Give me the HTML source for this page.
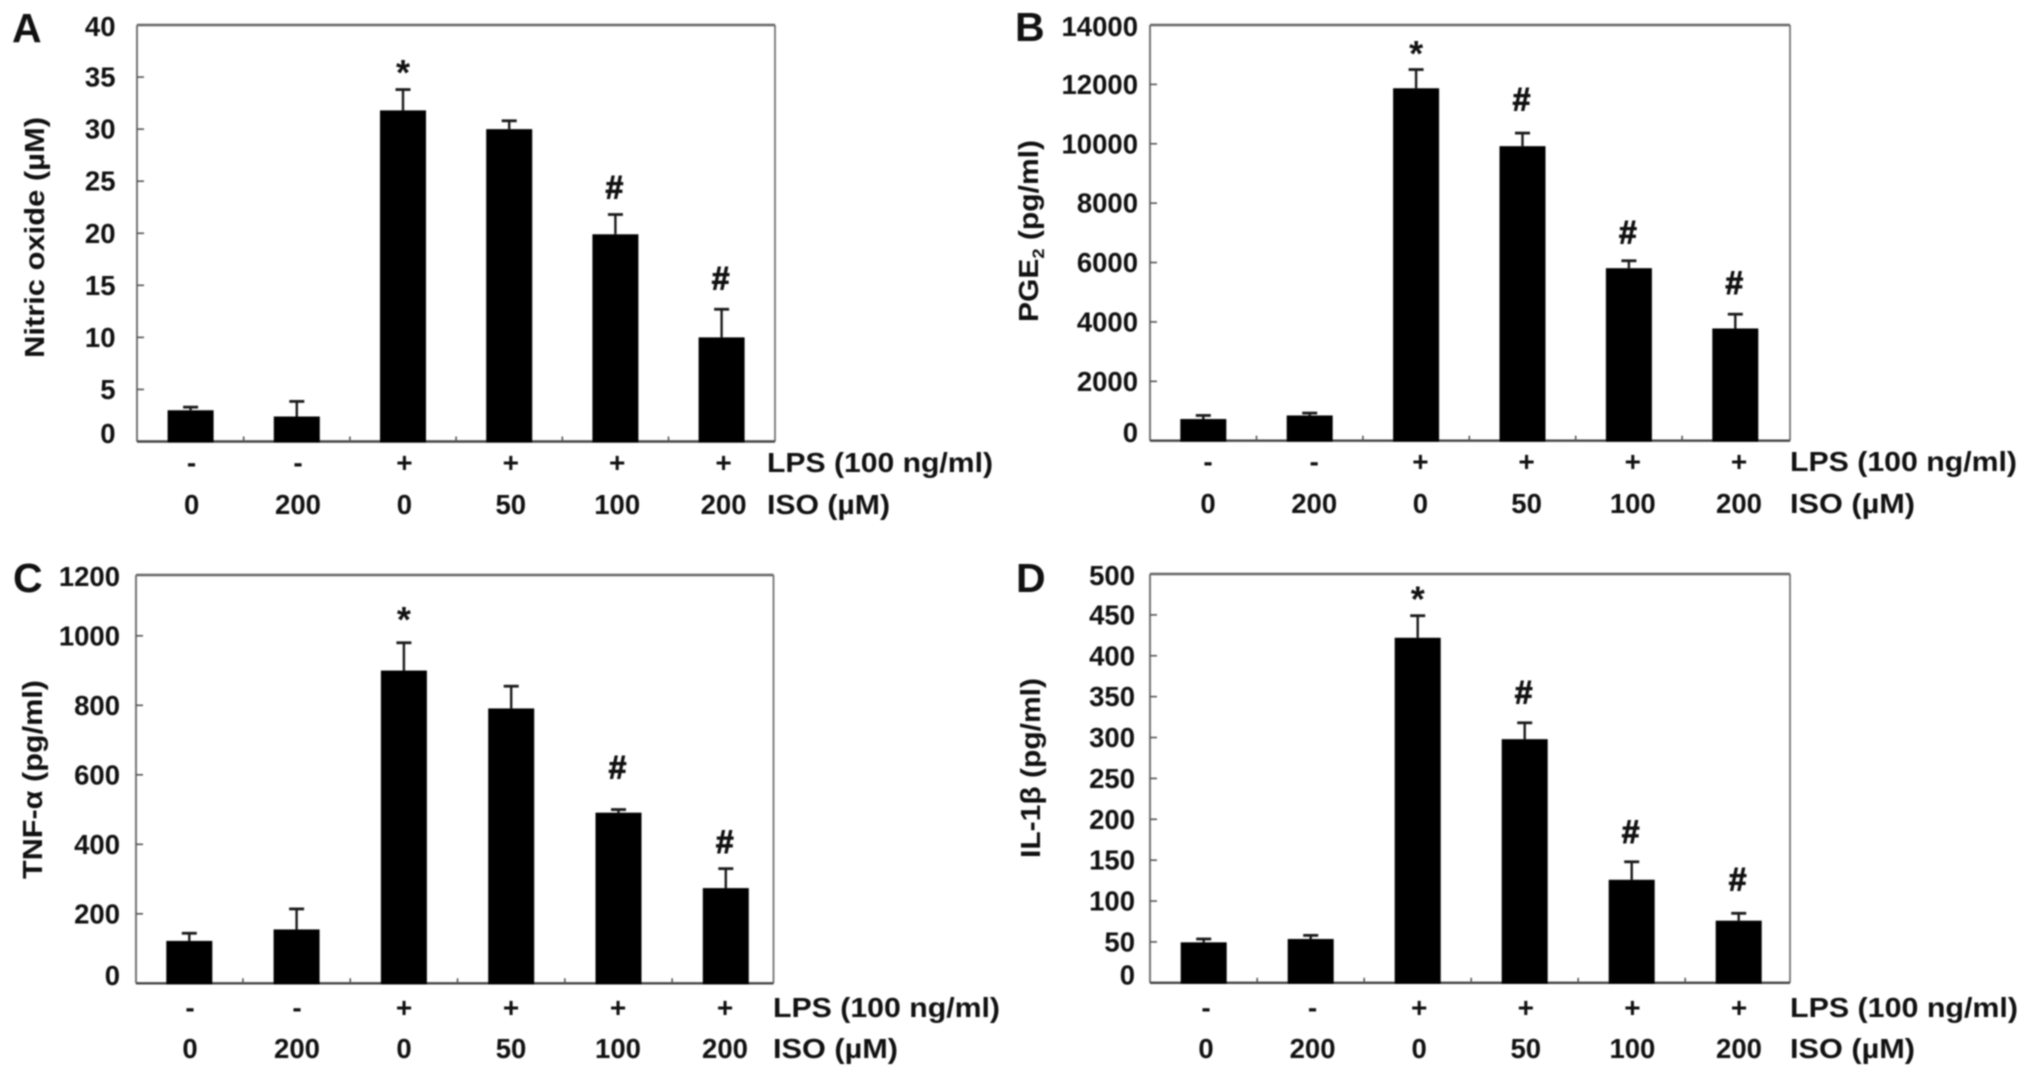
<!DOCTYPE html>
<html lang="en">
<head>
<meta charset="utf-8">
<title>Nitric oxide, PGE2, TNF-alpha and IL-1beta bar charts</title>
<style>
html,body{margin:0;padding:0;background:#fff;}
#figure{display:block;width:2031px;height:1077px;filter:blur(0.8px);}
#figure text{font-family:"Liberation Sans",Arial,sans-serif;font-weight:bold;fill:#111;}
</style>
</head>
<body>
<svg id="figure" xmlns="http://www.w3.org/2000/svg" width="2031" height="1077" viewBox="0 0 2031 1077"></svg>
<script>
const lpsLabels = ['-', '-', '+', '+', '+', '+'];
const isoLabels = ['0', '200', '0', '50', '100', '200'];

const aValues = [3, 2.4, 31.8, 30, 19.9, 10];
const aErrorTops = [3.3, 3.85, 33.8, 30.8, 21.8, 12.7];
const aMarks = ['', '', '*', '', '#', '#'];
const aTicks = [0, 5, 10, 15, 20, 25, 30, 35, 40];

const bValues = [730, 850, 11870, 9920, 5810, 3780];
const bErrorTops = [850, 930, 12500, 10360, 6060, 4260];
const bMarks = ['', '', '*', '#', '#', '#'];
const bTicks = [0, 2000, 4000, 6000, 8000, 10000, 12000, 14000];

const cValues = [122, 155, 900, 791, 491, 274];
const cErrorTops = [144, 214, 980, 855, 500, 330];
const cMarks = ['', '', '*', '', '#', '#'];
const cTicks = [0, 200, 400, 600, 800, 1000, 1200];

const dValues = [49.5, 53.6, 422, 298, 126, 76];
const dErrorTops = [53.6, 58, 449, 318, 148, 85];
const dMarks = ['', '', '*', '#', '#', '#'];
const dTicks = [0, 50, 100, 150, 200, 250, 300, 350, 400, 450, 500];

const panels = [
  {id:'a', letter:'A', lx:12, ly:42, title:'Nitric oxide (µM)', sub:null, tx:44, ty:358, tl:241,
   left:137, right:775, top:25, bottom:441.5, max:40, c0:190.6, step:106.2, rx0:191.6, rstep:106.4,
   tickRight:115.5, keyX:767, lpsW:226, isoW:123, lpsY:472, isoY:514, gaps:[0,0,22.4,0,25,29],
   values:aValues, errs:aErrorTops, marks:aMarks, ticks:aTicks},
  {id:'b', letter:'B', lx:1015, ly:41, title:'PGE', sub:'2', tail:' (pg/ml)', tx:1038, ty:322, tl:182,
   left:1150, right:1790, top:25, bottom:440.7, max:14000, c0:1203.3, step:106.4, rx0:1208, rstep:106.2,
   tickRight:1138, keyX:1790, lpsW:227, isoW:125, lpsY:471, isoY:513, gaps:[0,0,21.7,31.7,26.5,29],
   values:bValues, errs:bErrorTops, marks:bMarks, ticks:bTicks},
  {id:'c', letter:'C', lx:13, ly:592, title:'TNF-α (pg/ml)', sub:null, tx:42, ty:879, tl:199,
   left:136, right:773.5, top:575, bottom:983.3, max:1175, c0:189.3, step:107.3, rx0:190, rstep:107,
   tickRight:120, keyX:773, lpsW:227, isoW:125, lpsY:1017, isoY:1058, gaps:[0,0,29,0,40,24.7],
   values:cValues, errs:cErrorTops, marks:cMarks, ticks:cTicks},
  {id:'d', letter:'D', lx:1016, ly:592, title:'IL-1β (pg/ml)', sub:null, tx:1040, ty:858, tl:180,
   left:1150, right:1790, top:574, bottom:982.8, max:500, c0:1203.7, step:107, rx0:1206, rstep:106.6,
   tickRight:1135, keyX:1790, lpsW:228, isoW:125, lpsY:1017, isoY:1058, gaps:[0,0,22.3,28.4,28,31.7],
   values:dValues, errs:dErrorTops, marks:dMarks, ticks:dTicks}
];

const svg = document.getElementById('figure');
const NS = 'http://www.w3.org/2000/svg';

function line(parent, x1, y1, x2, y2, stroke, w) {
  const el = document.createElementNS(NS, 'line');
  el.setAttribute('x1', x1);
  el.setAttribute('y1', y1);
  el.setAttribute('x2', x2);
  el.setAttribute('y2', y2);
  el.setAttribute('stroke', stroke);
  el.setAttribute('stroke-width', w);
  parent.appendChild(el);
  return el;
}
function label(parent, x, y, str, size, anchor) {
  const el = document.createElementNS(NS, 'text');
  el.setAttribute('x', x);
  el.setAttribute('y', y);
  el.setAttribute('font-size', size);
  el.setAttribute('text-anchor', anchor || 'middle');
  el.textContent = str;
  parent.appendChild(el);
  return el;
}

panels.forEach(function (p) {
  const yScale = function (v) { return p.bottom - (v / p.max) * (p.bottom - p.top); };
  const xCenter = function (i) { return p.c0 + i * p.step; };
  const barW = 46;

  const g = document.createElementNS(NS, 'g');
  
  
  svg.appendChild(g);

  const letter = label(g, p.lx, p.ly, p.letter, 41, 'start');
  
  

  const frame = document.createElementNS(NS, 'g');
  
  
  g.appendChild(frame);
  line(frame, p.left, p.top, p.right, p.top, '#666', 2.4);
  line(frame, p.right, p.top, p.right, p.bottom, '#666', 1.6);
  line(frame, p.left, p.top, p.left, p.bottom, '#666', 1.8);
  line(frame, p.left, p.bottom, p.right, p.bottom, '#444', 2.4);

  const yAxis = document.createElementNS(NS, 'g');
  
  
  g.appendChild(yAxis);
  p.ticks.forEach(function (t) {
    const ty = yScale(t);
    if (ty > p.top + 1 && ty < p.bottom - 1) {
      const tick = line(yAxis, p.left, ty, p.left + 7, ty, '#555', 1.6);
      
      
    }
    const cy = Math.min(Math.max(ty, p.top + 1.5), p.bottom - 8);
    const tl = label(yAxis, p.tickRight, cy + 9.5, String(t), 27.5, 'end');
    
    
  });

  for (let i = 1; i < p.values.length; i++) {
    const bx = (xCenter(i - 1) + xCenter(i)) / 2;
    const xt = line(g, bx, p.bottom, bx, p.bottom - 5, '#555', 1.6);
    
    
  }

  const title = document.createElementNS(NS, 'text');
  
  
  title.setAttribute('font-size', 28);
  title.setAttribute('transform', 'translate(' + p.tx + ',' + p.ty + ') rotate(-90)');
  title.setAttribute('textLength', p.tl);
  title.setAttribute('lengthAdjust', 'spacingAndGlyphs');
  title.appendChild(document.createTextNode(p.title));
  if (p.sub) {
    const s = document.createElementNS(NS, 'tspan');
    s.setAttribute('font-size', 17);
    s.setAttribute('dy', 6);
    s.textContent = p.sub;
    title.appendChild(s);
    const tail = document.createElementNS(NS, 'tspan');
    tail.setAttribute('dy', -6);
    tail.textContent = p.tail;
    title.appendChild(tail);
  }
  g.appendChild(title);

  p.values.forEach(function (v, i) {
    const cx = xCenter(i);
    const errY = yScale(p.errs[i]);
    const topY = yScale(v);

    const stem = line(g, cx, errY, cx, topY, '#1a1a1a', 2.4);
    
    
    const cap = line(g, cx - 7.5, errY, cx + 7.5, errY, '#1a1a1a', 2.8);
    
    

    const bar = document.createElementNS(NS, 'rect');
    
    
    bar.setAttribute('x', cx - barW / 2);
    bar.setAttribute('y', topY);
    bar.setAttribute('width', barW);
    bar.setAttribute('height', p.bottom - topY + 1);
    bar.setAttribute('fill', '#000');
    g.appendChild(bar);

    if (p.marks[i] === '*') {
      const m = label(g, cx, errY - p.gaps[i] + 18, '*', 36);
      
      
    } else if (p.marks[i] === '#') {
      const m = label(g, cx - 1, errY - p.gaps[i] + 9, '#', 32);
      m.setAttribute('stroke', '#111');
      m.setAttribute('stroke-width', '0.9');
      
      
    }

    const rx = p.rx0 + i * p.rstep;
    const lp = label(g, rx, p.lpsY, lpsLabels[i], 28);
    
    
    const iso = label(g, rx, p.isoY, isoLabels[i], 27.5);
    
    
  });

  const lpsKey = label(g, p.keyX, p.lpsY, 'LPS (100 ng/ml)', 28, 'start');
  lpsKey.setAttribute('textLength', p.lpsW);
  lpsKey.setAttribute('lengthAdjust', 'spacingAndGlyphs');
  
  
  const isoKey = label(g, p.keyX, p.isoY, 'ISO (µM)', 28, 'start');
  isoKey.setAttribute('textLength', p.isoW);
  isoKey.setAttribute('lengthAdjust', 'spacingAndGlyphs');
  
  
});
</script>
</body>
</html>
